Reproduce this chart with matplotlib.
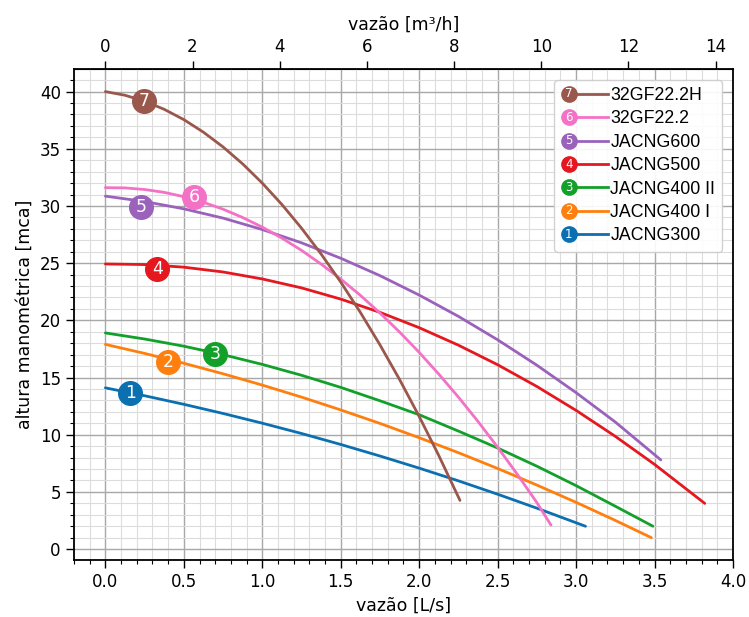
import numpy as np
import matplotlib
matplotlib.use("Agg")
import matplotlib.pyplot as plt
from matplotlib.lines import Line2D
from matplotlib.text import Text
from matplotlib.legend_handler import HandlerBase
from matplotlib.ticker import MultipleLocator

# ---------------- data ----------------
labels = ["JACNG300", "JACNG400 I", "JACNG400 II", "JACNG500",
          "JACNG600", "32GF22.2", "32GF22.2H"]
numbers = ["1", "2", "3", "4", "5", "6", "7"]
colors = ["#0b6fb0", "#ff7f0e", "#13a02a", "#e5171f",
          "#9a62bb", "#f472c6", "#9a574c"]

x_1 = [0, 0.25, 0.5, 0.75, 1.0, 1.25, 1.5, 1.75, 2.0, 2.25, 2.5, 2.75, 3.06]
h_1 = [14.1, 13.41, 12.66, 11.86, 11.01, 10.11, 9.15, 8.14, 7.08, 5.97, 4.8, 3.58, 2.0]

x_2 = [0, 0.25, 0.5, 0.75, 1.0, 1.25, 1.5, 1.75, 2.0, 2.25, 2.5, 2.75, 3.0, 3.25, 3.48]
h_2 = [17.9, 17.11, 16.25, 15.33, 14.34, 13.29, 12.17, 10.99, 9.74, 8.43, 7.05, 5.6, 4.09, 2.51, 1.0]

x_3 = [0, 0.25, 0.5, 0.75, 1.0, 1.25, 1.5, 1.75, 2.0, 2.25, 2.5, 2.75, 3.0, 3.25, 3.49]
h_3 = [18.9, 18.37, 17.74, 17.0, 16.15, 15.2, 14.14, 12.97, 11.75, 10.32, 8.84, 7.25, 5.55, 3.75, 2.0]

x_4 = [0, 0.25, 0.5, 0.75, 1.0, 1.25, 1.5, 1.75, 2.0, 2.25, 2.5, 2.75, 3.0, 3.25, 3.5, 3.82]
h_4 = [24.93, 24.88, 24.65, 24.23, 23.62, 22.84, 21.86, 20.7, 19.36, 17.83, 16.12, 14.22, 12.13, 9.86, 7.41, 4.0]

x_5 = [0, 0.25, 0.5, 0.75, 1.0, 1.25, 1.5, 1.75, 2.0, 2.25, 2.5, 2.75, 3.0, 3.25, 3.54]
h_5 = [30.86, 30.39, 29.75, 28.94, 27.94, 26.78, 25.43, 23.91, 22.21, 20.35, 18.3, 16.08, 13.68, 11.11, 7.8]

x_6 = [0, 0.125, 0.25, 0.375, 0.5, 0.625, 0.75, 0.875, 1.0, 1.125, 1.25, 1.375,
       1.5, 1.625, 1.75, 1.875, 2.0, 2.125, 2.25, 2.375, 2.5, 2.625, 2.75, 2.84]
h_6 = [31.6, 31.58, 31.44, 31.19, 30.81, 30.32, 29.72, 28.99, 28.15, 27.19, 26.12, 24.92,
       23.61, 22.19, 20.64, 18.98, 17.2, 15.3, 13.29, 11.16, 8.91, 6.55, 4.07, 2.1]

x_7 = [0, 0.125, 0.25, 0.375, 0.5, 0.625, 0.75, 0.875, 1.0, 1.125, 1.25, 1.375,
       1.5, 1.625, 1.75, 1.875, 2.0, 2.125, 2.26]
h_7 = [40.0, 39.68, 39.16, 38.45, 37.55, 36.45, 35.16, 33.68, 32.0, 30.13, 28.06, 25.8,
       23.35, 20.7, 17.86, 14.83, 11.6, 8.18, 4.26]

marker_x = [0.16, 0.40, 0.70, 0.33, 0.228, 0.568, 0.245]
marker_y = [13.66, 16.4, 17.1, 24.5, 29.93, 30.8, 39.2]

xs = [x_1, x_2, x_3, x_4, x_5, x_6, x_7]
hs = [h_1, h_2, h_3, h_4, h_5, h_6, h_7]

LS_TO_M3H = 3.6

# ---------------- figure ----------------
fig = plt.figure(figsize=(7.49, 6.17), dpi=100)
ax = fig.add_axes([0.0988, 0.0924, 0.8798, 0.7953])

ax.set_xlim(-0.2, 4.0)
ax.set_ylim(-0.95, 41.95)

ax.xaxis.set_major_locator(MultipleLocator(0.5))
ax.xaxis.set_minor_locator(MultipleLocator(0.1))
ax.yaxis.set_major_locator(MultipleLocator(5))
ax.yaxis.set_minor_locator(MultipleLocator(1))
ax.grid(which="major", color="#a8a8a8", linewidth=1.0)
ax.grid(which="minor", color="#dcdcdc", linewidth=0.8)
ax.set_axisbelow(True)

handles = []
for i in range(7):
    ln, = ax.plot(xs[i], hs[i], color=colors[i], linewidth=2.0,
                  solid_capstyle="round", solid_joinstyle="round",
                  label=labels[i], zorder=3)
    handles.append(ln)
    ax.plot(marker_x[i], marker_y[i], "o", ms=17, color=colors[i], zorder=5)
    ax.text(marker_x[i], marker_y[i], numbers[i], color="white",
            fontsize=12.5, ha="center", va="center", zorder=6)

ax.tick_params(which="major", length=6, width=1.0, labelsize=12)
ax.tick_params(which="minor", length=3, width=0.8)
for s in ax.spines.values():
    s.set_linewidth(1.3)

ax.set_xticks(np.arange(0, 4.01, 0.5))
ax.set_xticklabels([f"{v:.1f}" for v in np.arange(0, 4.01, 0.5)])
ax.set_xlabel("vazão [L/s]", fontsize=12.5)
ax.set_ylabel("altura manométrica [mca]", fontsize=12.5)

sec = ax.secondary_xaxis("top", functions=(lambda v: v * LS_TO_M3H,
                                            lambda v: v / LS_TO_M3H))
sec.set_xticks(np.arange(0, 15, 2))
sec.tick_params(length=6, width=1.0, labelsize=12)
sec.set_xlabel("vazão [m³/h]", fontsize=12.5, labelpad=6)


class NumHandler(HandlerBase):
    def __init__(self, num, color):
        super().__init__()
        self.num = num
        self.color = color

    def create_artists(self, legend, orig_handle, xdescent, ydescent,
                       width, height, fontsize, trans):
        y = height / 2 - ydescent
        x0 = -xdescent
        cx = x0 + 0.16 * width
        line = Line2D([cx, x0 + width], [y, y], color=self.color, lw=2.0)
        dot = Line2D([cx], [y], marker="o", ms=11, color=self.color, lw=0)
        txt = Text(cx, y, self.num, color="white", fontsize=8.5,
                   ha="center", va="center")
        for a in (line, dot, txt):
            a.set_transform(trans)
        return [line, dot, txt]


order = list(range(6, -1, -1))
leg = ax.legend([handles[i] for i in order], [labels[i] for i in order],
                handler_map={handles[i]: NumHandler(numbers[i], colors[i]) for i in range(7)},
                loc="upper right", bbox_to_anchor=(1.0, 1.0), borderaxespad=0.6,
                prop={"family": "Liberation Sans", "size": 12.8},
                handlelength=2.6, handletextpad=0.15, labelspacing=0.36,
                borderpad=0.4, framealpha=0.9, edgecolor="#cccccc")

fig.savefig("out.png", dpi=100)
